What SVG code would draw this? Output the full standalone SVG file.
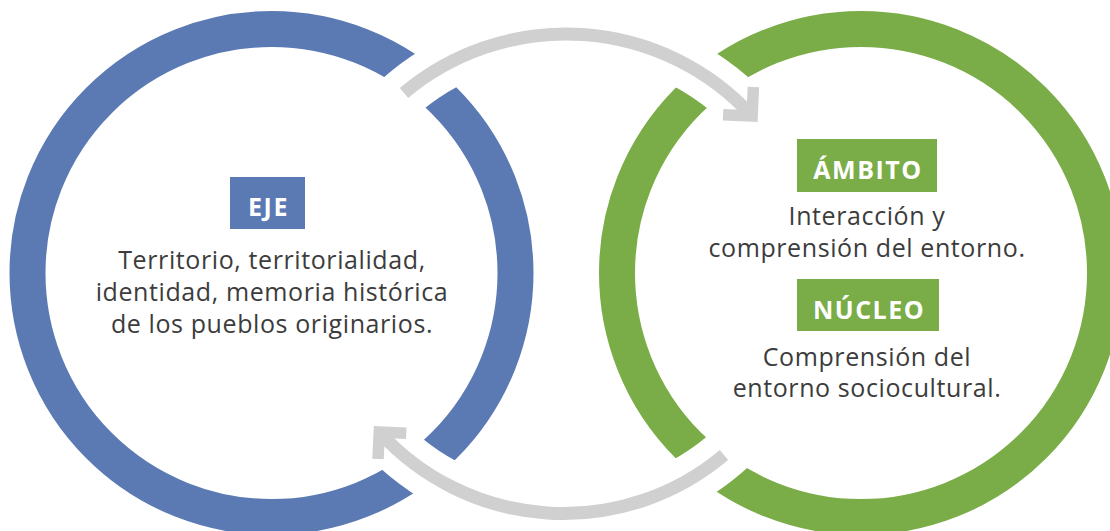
<svg xmlns="http://www.w3.org/2000/svg" width="1110" height="531" viewBox="0 0 1110 531">
<style>
.ring{fill:none;stroke-width:36}
.halo{fill:none;stroke:#ffffff;stroke-width:50;stroke-linecap:butt}
.arc{fill:none;stroke:#d0d0d0;stroke-width:13;stroke-linecap:butt}
.head{fill:none;stroke:#d0d0d0;stroke-width:11.5;stroke-linejoin:miter;stroke-miterlimit:10;stroke-linecap:butt}
.body{font-family:"Open Sans","Liberation Sans",sans-serif;font-size:25px;letter-spacing:0.6px;fill:#3c3c3c;text-anchor:middle}
.tag{font-family:"Open Sans","Liberation Sans",sans-serif;font-size:25px;font-weight:700;fill:#ffffff;text-anchor:middle;letter-spacing:1.5px}
</style>
<rect width="1110" height="531" fill="#ffffff"/>
<g id="ring-eje">
<circle class="ring" cx="271.5" cy="273" r="244" stroke="#5b7ab4"/>
</g>
<g id="ring-ambito">
<circle class="ring" cx="861" cy="273" r="244" stroke="#7aad48"/>
</g>
<g id="connectors">
<path class="halo" d="M 387.8 107.8 A 252 252 0 0 1 752.1 116.1"/>
<path class="halo" d="M 739.7 440.5 A 249.1 249.1 0 0 1 379.3 432"/>
<path class="arc" d="M 404 93 A 252 252 0 0 1 752.1 116.1"/>
<polyline class="head" points="753.4,87.1 752.1,116.1 723.1,114.8"/>
<path class="arc" d="M 724 455 A 249.1 249.1 0 0 1 379.3 432"/>
<polyline class="head" points="378,459 379.3,432 406.3,433.3"/>
</g>
<g id="node-eje">
<rect x="230" y="177" width="75" height="52" fill="#5b7ab4"/>
<text class="tag" x="268.5" y="216">EJE</text>
<text class="body" x="272" y="269">Territorio, territorialidad,</text>
<text class="body" x="272" y="301">identidad, memoria histórica</text>
<text class="body" x="272" y="333">de los pueblos originarios.</text>
</g>
<g id="node-ambito">
<rect x="797" y="139" width="140" height="53" fill="#7aad48"/>
<text class="tag" x="868" y="179">ÁMBITO</text>
<text class="body" x="867" y="225">Interacción y</text>
<text class="body" x="867" y="257">comprensión del entorno.</text>
</g>
<g id="node-nucleo">
<rect x="797" y="279" width="142" height="52" fill="#7aad48"/>
<text class="tag" x="869" y="319">NÚCLEO</text>
<text class="body" x="867" y="366">Comprensión del</text>
<text class="body" x="867" y="397">entorno sociocultural.</text>
</g>
</svg>
